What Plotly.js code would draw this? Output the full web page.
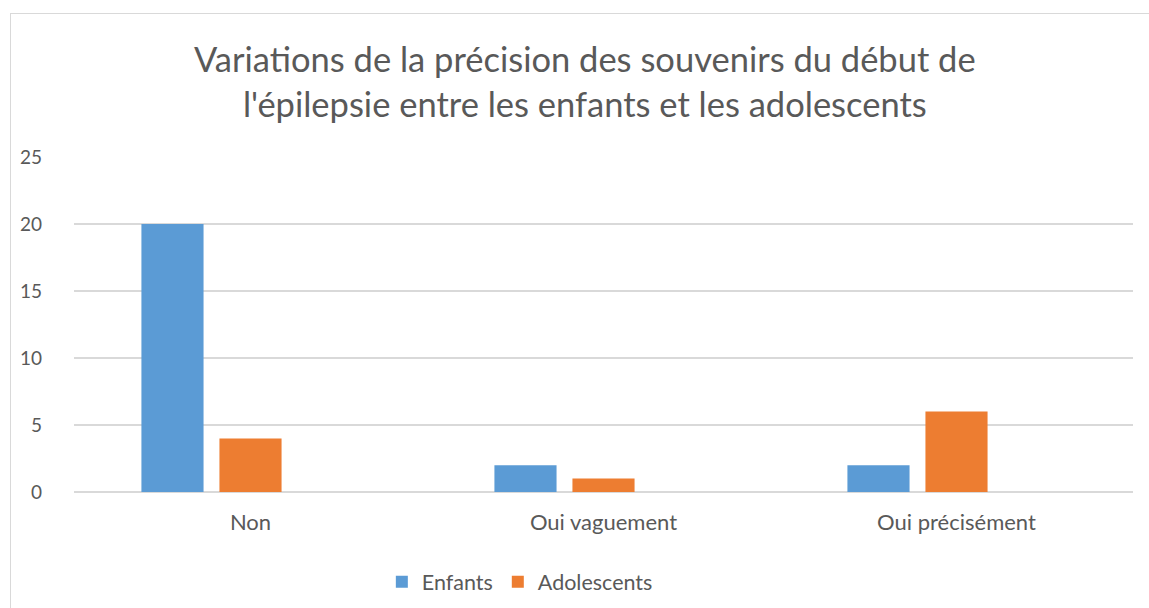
<!DOCTYPE html>
<html>
<head>
<meta charset="utf-8">
<script src="https://cdn.plot.ly/plotly-3.0.1.min.js"></script>
<style>
  html, body { margin: 0; padding: 0; background: #fff; }
  #chart { width: 1149px; height: 608px; position: absolute; left: 0; top: 0; }
  #frame { position: absolute; left: 10px; top: 13px; width: 1145px; height: 600px;
           border-left: 1px solid #d9d9d9; border-top: 1px solid #d9d9d9; pointer-events: none; }
</style>
</head>
<body>
<div id="chart"></div>
<div id="frame"></div>
<script>
const categories = ["Non", "Oui vaguement", "Oui précisément"];
const enfants = [20, 2, 2];
const adolescents = [4, 1, 6];
const seriesNames = ["Enfants", "Adolescents"];
const yTicks = [0, 5, 10, 15, 20, 25];

const FONT = "Lato, 'Open Sans', sans-serif";
const TXT = "#595959";

const traces = [
  { type: "bar", name: seriesNames[0], x: categories, y: enfants,
    marker: { color: "#5B9BD5" }, width: 0.176, offset: -0.309, hoverinfo: "y" },
  { type: "bar", name: seriesNames[1], x: categories, y: adolescents,
    marker: { color: "#ED7D31" }, width: 0.176, offset: -0.088, hoverinfo: "y" }
];

const layout = {
  width: 1149, height: 608,
  margin: { l: 74, r: 16, t: 157, b: 116, autoexpand: false },
  paper_bgcolor: "rgba(0,0,0,0)", plot_bgcolor: "#fff",
  barmode: "overlay",
  title: {
    text: "Variations de la précision des souvenirs du début de<br>l'épilepsie entre les enfants et les adolescents",
    font: { family: FONT, size: 34.5, color: TXT },
    x: 0.509, xanchor: "center", y: 0.882, yanchor: "top"
  },
  xaxis: {
    type: "category", showgrid: false, zeroline: false,
    showline: false, ticks: "", ticklabelstandoff: 15,
    tickfont: { family: FONT, size: 22, color: TXT }
  },
  yaxis: {
    range: [0, 25], tickvals: yTicks, ticktext: yTicks.map(String),
    showgrid: true, gridcolor: "#d9d9d9", gridwidth: 1.3,
    zeroline: true, zerolinecolor: "#d9d9d9", zerolinewidth: 1.3,
    showline: false, ticks: "", ticklabelstandoff: 31,
    tickfont: { family: FONT, size: 19, color: TXT }
  },
  showlegend: true,
  legend: {
    orientation: "h", x: 0.421, xanchor: "center",
    yref: "container", y: 0.043, yanchor: "middle",
    font: { family: FONT, size: 21.5, color: TXT },
    itemsizing: "constant", itemwidth: 30, tracegroupgap: 0
  }
};

Plotly.newPlot("chart", traces, layout, { displayModeBar: false, staticPlot: true });
</script>
</body>
</html>
